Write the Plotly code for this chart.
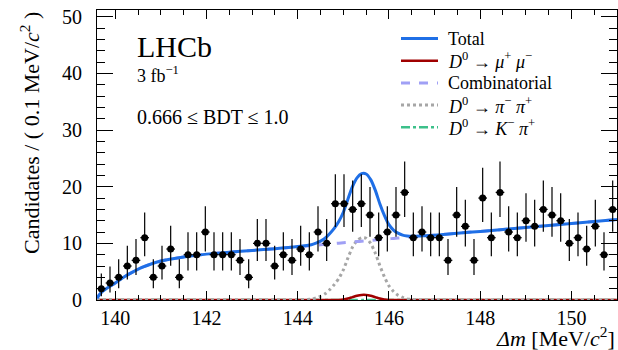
import plotly.graph_objects as go
import numpy as np

# ---- data: binned candidates (60 bins, width 0.19 MeV, from 139.6 to 151.0)
bin_lo = 139.6
bin_w = 0.19
counts = [2, 3, 4, 6, 7, 11, 4, 6, 9, 4,
          8, 8, 12, 8, 8, 8, 7, 4, 10, 10,
          6, 8, 7, 9, 8, 12, 10, 17, 17, 16,
          17, 15, 11, 12, 15, 19, 11, 12, 11, 11,
          7, 15, 13, 7, 18, 11, 19, 12, 11, 14,
          13, 16, 15, 14, 10, 11, 9, 13, 8, 16]

# ---- fit curves
curve_x = [139.6, 139.65, 139.7, 139.8, 139.9, 140.0, 140.2, 140.4, 140.6, 140.8,
           141.0, 141.5, 142.0, 142.5, 143.0, 143.5, 144.0, 144.3, 144.4, 144.5,
           144.6, 144.7, 144.8, 144.9, 145.0, 145.1, 145.2, 145.3, 145.4, 145.5,
           145.6, 145.7, 145.8, 145.9, 146.0, 146.1, 146.2, 146.3, 146.4, 146.5,
           146.7, 147.0, 147.5, 148.0, 148.5, 149.0, 149.5, 150.0, 150.5, 151.0]
comb = [0.3, 0.9, 1.4, 2.0, 2.5, 3.0, 4.1, 5.0, 5.8, 6.4,
        6.9, 7.6, 8.1, 8.45, 8.75, 9.05, 9.4, 9.6, 9.68, 9.75,
        9.82, 9.89, 9.96, 10.03, 10.1, 10.17, 10.24, 10.31, 10.38, 10.45,
        10.52, 10.59, 10.66, 10.73, 10.8, 10.87, 10.94, 11.01, 11.08, 11.15,
        11.3, 11.45, 11.8, 12.1, 12.45, 12.8, 13.15, 13.5, 13.85, 14.2]
pipi = [0, 0, 0, 0, 0, 0, 0, 0, 0, 0,
        0, 0, 0, 0, 0, 0, 0.03, 0.15, 0.35, 0.65,
        1.1, 1.8, 2.7, 3.8, 5.3, 7.4, 9.3, 10.5, 11.0, 10.9,
        10.0, 8.3, 6.1, 4.1, 2.5, 1.5, 0.85, 0.45, 0.2, 0.1,
        0.02, 0, 0, 0, 0, 0, 0, 0, 0, 0]
mumu = [0, 0, 0, 0, 0, 0, 0, 0, 0, 0,
        0, 0, 0, 0, 0, 0, 0, 0, 0, 0,
        0, 0, 0, 0.02, 0.1, 0.25, 0.5, 0.75, 0.9, 0.9,
        0.75, 0.5, 0.25, 0.1, 0.02, 0, 0, 0, 0, 0,
        0, 0, 0, 0, 0, 0, 0, 0, 0, 0]
kpi = [0.0] * 50
total = [0.3, 0.9, 1.4, 2.0, 2.5, 3.0, 4.1, 5.0, 5.8, 6.4,
         6.9, 7.6, 8.1, 8.45, 8.75, 9.05, 9.43, 9.75, 10.03, 10.4,
         10.9, 11.7, 12.65, 13.85, 15.5, 17.8, 20.0, 21.55, 22.3, 22.25,
         21.25, 19.4, 17.0, 14.95, 13.3, 12.35, 11.8, 11.45, 11.3, 11.25,
         11.32, 11.45, 11.8, 12.1, 12.45, 12.8, 13.15, 13.5, 13.85, 14.2]

x_ticks = [140, 142, 144, 146, 148, 150]
y_ticks = [0, 10, 20, 30, 40, 50]

# legend entries (label, colour, width, dash) in display order
legend_entries = [
    ("Total", "#1f6fe6", 3, "solid"),
    ("<i>D</i><sup>0</sup> → <i>μ</i><sup>+</sup> <i>μ</i><sup>−</sup>", "#a00000", 2.5, "solid"),
    ("Combinatorial", "#a0a0f5", 3, "dash"),
    ("<i>D</i><sup>0</sup> → <i>π</i><sup>−</sup> <i>π</i><sup>+</sup>", "#a6a6a6", 3, "dot"),
    ("<i>D</i><sup>0</sup> → <i>K</i><sup>−</sup> <i>π</i><sup>+</sup>", "#3cc08a", 2.5, "dashdot"),
]

# ---- derived
n = np.array(counts, dtype=float)
centers = bin_lo + bin_w * (np.arange(len(counts)) + 0.5)
err_hi = np.sqrt(n + 0.75) + 1.0          # Gehrels approx. of Poisson interval
err_lo = np.where(n > 0, np.sqrt(np.maximum(n - 0.25, 0)), 0)

FONT = "Liberation Serif"
fig = go.Figure()

def curve(y, entry):
    name, color, width, dash = entry
    fig.add_trace(go.Scatter(
        x=curve_x, y=y, mode="lines", name=name, showlegend=False,
        line=dict(color=color, width=width, dash=dash, shape="spline", smoothing=0.6),
        cliponaxis=False, hoverinfo="skip"))

curve(kpi, legend_entries[4])
curve(mumu, legend_entries[1])
curve(pipi, legend_entries[3])
curve(comb, legend_entries[2])
curve(total, legend_entries[0])

fig.add_trace(go.Scatter(
    x=centers, y=n, mode="markers", showlegend=False,
    marker=dict(color="black", size=7),
    error_y=dict(type="data", symmetric=False, array=err_hi, arrayminus=err_lo,
                 color="black", thickness=1.2, width=0),
    error_x=dict(type="constant", value=bin_w / 2, color="black", thickness=1.2, width=0),
    cliponaxis=False))

axis_common = dict(showline=True, linecolor="black", linewidth=1, mirror="ticks",
                   ticks="inside", tickcolor="black", showgrid=False, zeroline=False,
                   tickfont=dict(family=FONT, size=20, color="black"))

fig.update_xaxes(range=[139.6, 151.0], tickvals=x_ticks, ticklen=9,
                 minor=dict(dtick=0.5, tick0=140, ticklen=5, ticks="inside", tickcolor="black"),
                 **axis_common)
fig.update_yaxes(range=[0, 51.2], tickvals=y_ticks, ticklen=16, ticklabelstandoff=10,
                 minor=dict(dtick=2, tick0=0, ticklen=8, ticks="inside", tickcolor="black"),
                 **axis_common)

# ---- hand-made legend (ROOT-style compact rows)
PLOT_L, PLOT_W, PLOT_B, PLOT_H = 97, 520, 300, 290
def px_x(p):
    return (p - PLOT_L) / PLOT_W
def px_y(p):
    return (PLOT_B - p) / PLOT_H

shapes = []
annotations = []
row0, row_step = 38.5, 22.2
for i, (label, color, width, dash) in enumerate(legend_entries):
    yy = px_y(row0 + i * row_step)
    shapes.append(dict(type="line", xref="paper", yref="paper",
                       x0=px_x(401), x1=px_x(438), y0=yy, y1=yy,
                       line=dict(color=color, width=width, dash=dash)))
    annotations.append(dict(text=label, x=px_x(446), y=yy, xref="paper", yref="paper",
                            xanchor="left", yanchor="middle", showarrow=False,
                            font=dict(family=FONT, size=18, color="black")))

annotations += [
    dict(text="LHCb", x=px_x(135), y=px_y(46), xref="paper", yref="paper",
         xanchor="left", yanchor="middle", showarrow=False,
         font=dict(family=FONT, size=30, color="black")),
    dict(text="3 fb<sup>−1</sup>", x=px_x(135), y=px_y(74), xref="paper", yref="paper",
         xanchor="left", yanchor="middle", showarrow=False,
         font=dict(family=FONT, size=18, color="black")),
    dict(text="0.666 ≤ BDT ≤ 1.0", x=px_x(135), y=px_y(117), xref="paper", yref="paper",
         xanchor="left", yanchor="middle", showarrow=False,
         font=dict(family=FONT, size=20, color="black")),
    dict(text="<i>Δm</i> [MeV/<i>c</i><sup>2</sup>]", x=1.0, y=px_y(337),
         xref="paper", yref="paper", xanchor="right", yanchor="middle",
         showarrow=False, font=dict(family=FONT, size=22, color="black")),
    dict(text="Candidates / ( 0.1 MeV/<i>c</i><sup>2</sup> )", x=px_x(30), y=1.0,
         xref="paper", yref="paper", xanchor="center", yanchor="top", textangle=-90,
         showarrow=False, font=dict(family=FONT, size=22, color="black")),
]

fig.update_layout(
    width=618, height=350,
    margin=dict(l=97, r=1, t=10, b=50),
    paper_bgcolor="white", plot_bgcolor="white",
    font=dict(family=FONT, color="black"),
    showlegend=False,
    shapes=shapes,
    annotations=annotations,
)

fig.write_html("out.html")
